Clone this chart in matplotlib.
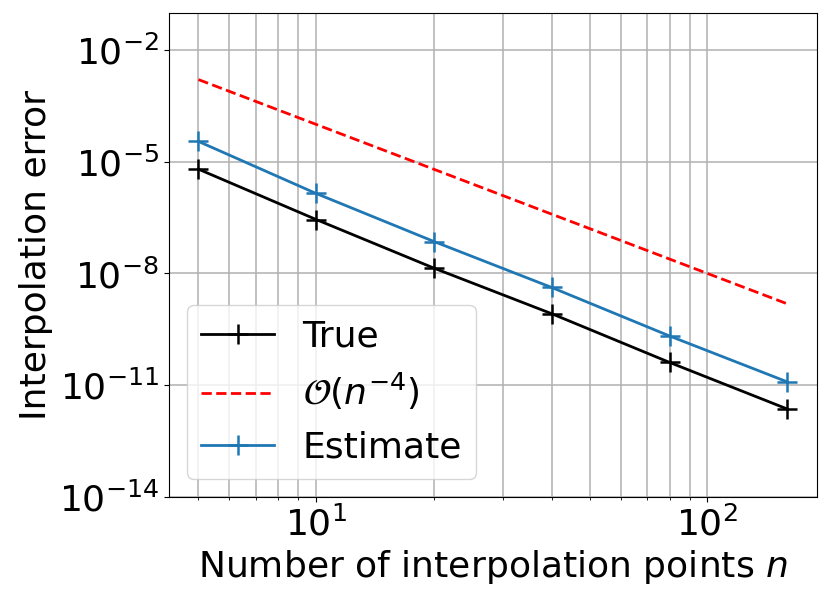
import matplotlib
matplotlib.use("Agg")
import matplotlib.pyplot as plt

# Number of interpolation points and measured errors
n_points = [5, 10, 20, 40, 80, 160]
true_error = [6.3e-6, 2.8e-7, 1.39e-8, 8.3e-10, 4.1e-11, 2.3e-12]
estimate_error = [3.5e-5, 1.4e-6, 7.2e-8, 4.2e-9, 2.1e-10, 1.23e-11]
reference_rate = [1.6e-3, 1.0e-4, 6.25e-6, 3.9e-7, 2.44e-8, 1.53e-9]

plt.rcParams['font.size'] = 26

fig = plt.figure(figsize=(8.3, 6.03), dpi=100)
ax = fig.add_axes([0.2036, 0.1758, 0.7804, 0.8032])

ax.loglog(n_points, true_error, '+-', color='k', lw=2, ms=14, mew=1.8, label='True')
ax.loglog(n_points, reference_rate, '--', color='r', lw=2, label=r'$\mathcal{O}(n^{-4})$')
ax.loglog(n_points, estimate_error, '+-', color='tab:blue', lw=2, ms=14, mew=1.8, label='Estimate')

ax.set_ylim(1e-14, 1e-1)
ax.set_yticks([1e-14, 1e-11, 1e-8, 1e-5, 1e-2])
ax.yaxis.set_minor_locator(matplotlib.ticker.NullLocator())

ax.grid(True, which='major', lw=1.1)
ax.grid(True, which='minor', axis='x', lw=1.1)

ax.set_xlabel('Number of interpolation points $n$')
ax.set_ylabel('Interpolation error')
ax.legend(loc='lower left')

fig.savefig('out.png', dpi=100)
